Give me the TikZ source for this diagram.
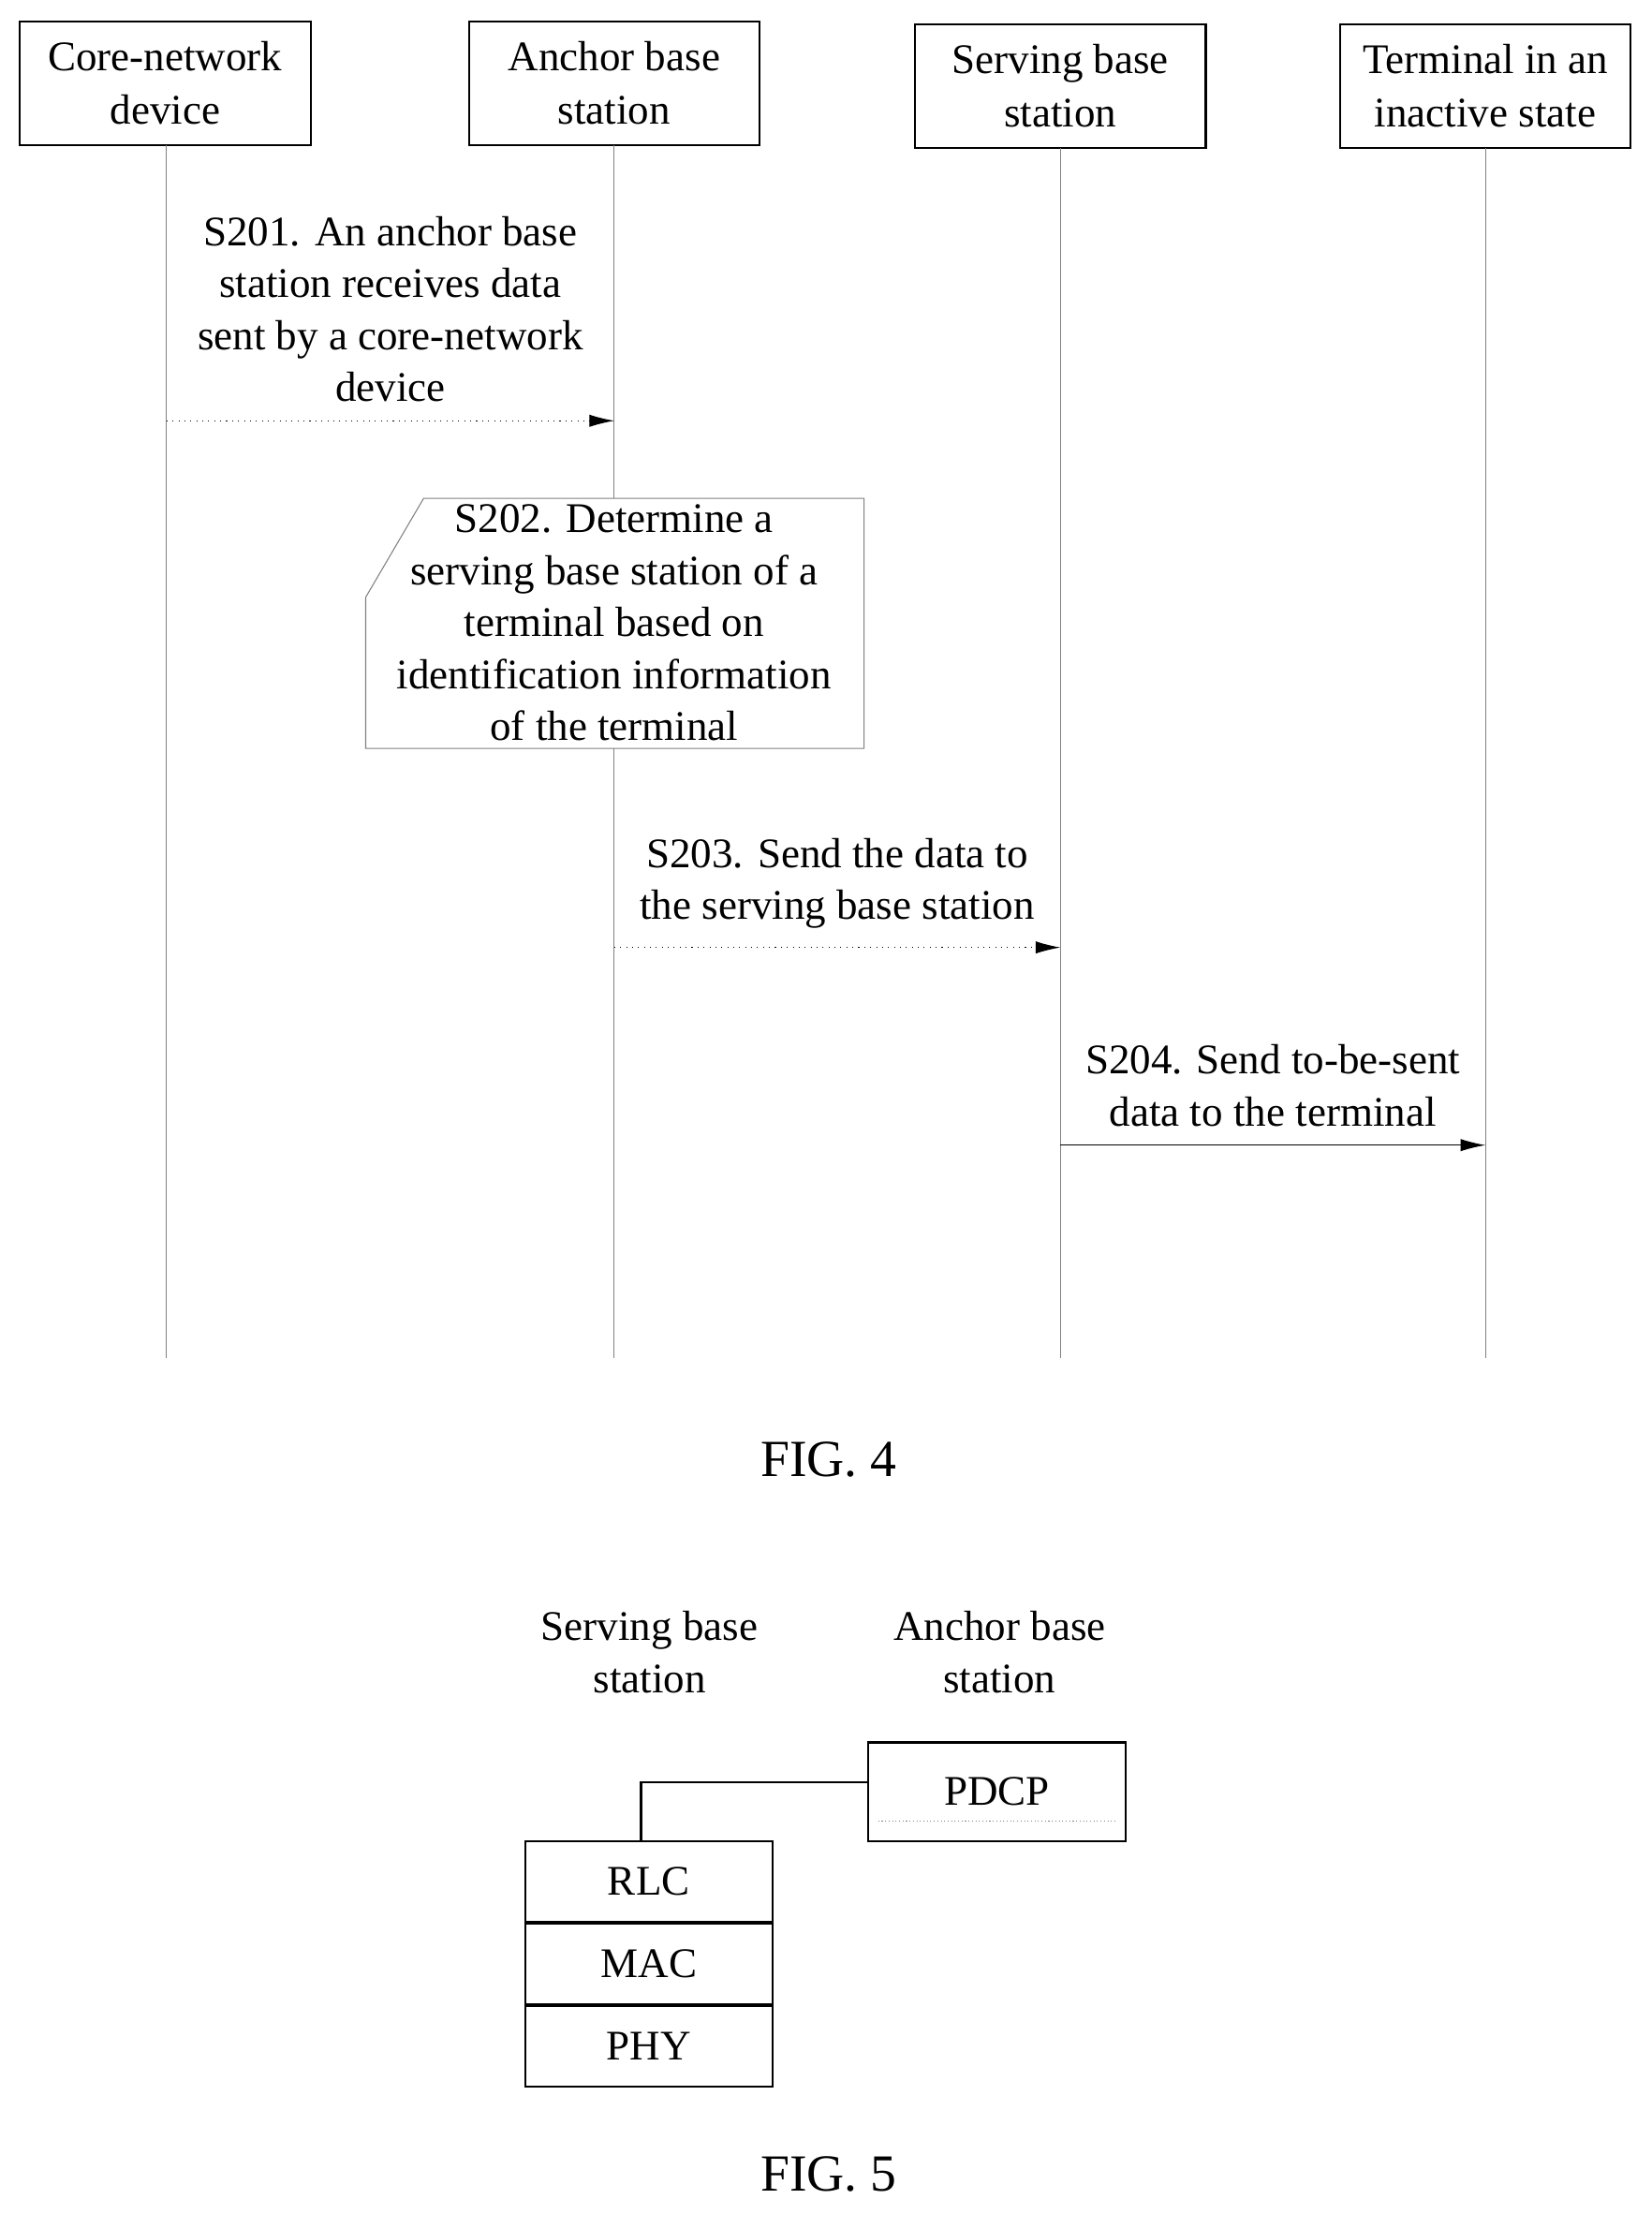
\documentclass[tikz,border=0pt]{standalone}
\usepackage{fontspec}
\setmainfont{Liberation Serif}
\usetikzlibrary{positioning,arrows.meta,calc}
\tikzstyle{entity}=[draw, thick, minimum width=4.12cm, minimum height=1.76cm, align=center, inner sep=0pt]
\tikzstyle{lifeline}=[gray, thin]
\tikzstyle{msg}=[-{Latex[length=10pt,width=5pt]}, thin]
\tikzstyle{layer}=[draw, thick, minimum width=3.5cm, minimum height=1.14cm, inner sep=0pt]
\tikzstyle{lbl}=[align=center, font=\fontsize{17}{21}\selectfont]
\begin{document}
\begin{tikzpicture}[x=0.02cm, y=-0.02cm, font=\fontsize{17}{21.5}\selectfont]
    \useasboundingbox (0,0) rectangle (1170,1568);

    % Teilnehmer
    \node[entity] (core) at (117,59) {Core-network\\device};
    \node[entity] (anchor) at (435,59) {Anchor base\\station};
    \node[entity] (serving) at (751,61) {Serving base\\station};
    \node[entity] (term) at (1052,61) {Terminal in an\\inactive state};

    % Lebenslinien
    \coordinate (coreEnd) at (118,962);
    \coordinate (anchorEnd) at (435,962);
    \coordinate (servingEnd) at (751,962);
    \coordinate (termEnd) at (1052,962);
    \draw[lifeline] (118,103) -- (coreEnd);
    \draw[lifeline] (435,103) -- (435,353);
    \draw[lifeline] (435,530) -- (anchorEnd);
    \draw[lifeline] (751,105) -- (servingEnd);
    \draw[lifeline] (1052,105) -- (termEnd);

    % S201
    \coordinate (a1) at (118,298);
    \coordinate (b1) at (435,298);
    \draw[msg, dotted] (a1) -- (b1);
    \node[lbl, above=4pt] at ($(a1)!0.5!(b1)$) {S201. An anchor base\\station receives data\\sent by a core-network\\device};

    % S202
    \draw[gray, thin] (300,353) -- (612,353) -- (612,530) -- (259,530) -- (259,423) -- cycle;
    \node[lbl] (step2) at (435,441) {S202. Determine a\\serving base station of a\\terminal based on\\identification information\\of the terminal};

    % S203
    \coordinate (a3) at (435,671);
    \coordinate (b3) at (751,671);
    \draw[msg, dotted] (a3) -- (b3);
    \node[lbl, above=4pt] at ($(a3)!0.5!(b3)$) {S203. Send the data to\\the serving base station};

    % S204
    \coordinate (a4) at (751,811);
    \coordinate (b4) at (1052,811);
    \draw[msg] (a4) -- (b4);
    \node[lbl, above=4pt] at ($(a4)!0.5!(b4)$) {S204. Send to-be-sent\\data to the terminal};

    \node[font=\fontsize{21}{25}\selectfont] (fig4) at (587,1034) {FIG. 4};

    % Protokollstapel
    \node[lbl] (servTitle) at (460,1170) {Serving base\\station};
    \node[lbl] (anchTitle) at (708,1170) {Anchor base\\station};
    \node[draw, thick, minimum width=3.64cm, minimum height=1.4cm, inner sep=0pt] (pdcp) at (706,1269) {PDCP};
    \draw[gray, densely dotted] (622,1290) -- (790,1290);
    \node[layer] (rlc) at (459.5,1332.5) {RLC};
    \node[layer, below=0pt of rlc] (mac) {MAC};
    \node[layer, below=0pt of mac] (phy) {PHY};
    \draw[thick] (pdcp.west |- 0,1262) -- (454,1262) -- (454,1304);

    \node[font=\fontsize{21}{25}\selectfont] (fig5) at (587,1540) {FIG. 5};
\end{tikzpicture}
\end{document}
